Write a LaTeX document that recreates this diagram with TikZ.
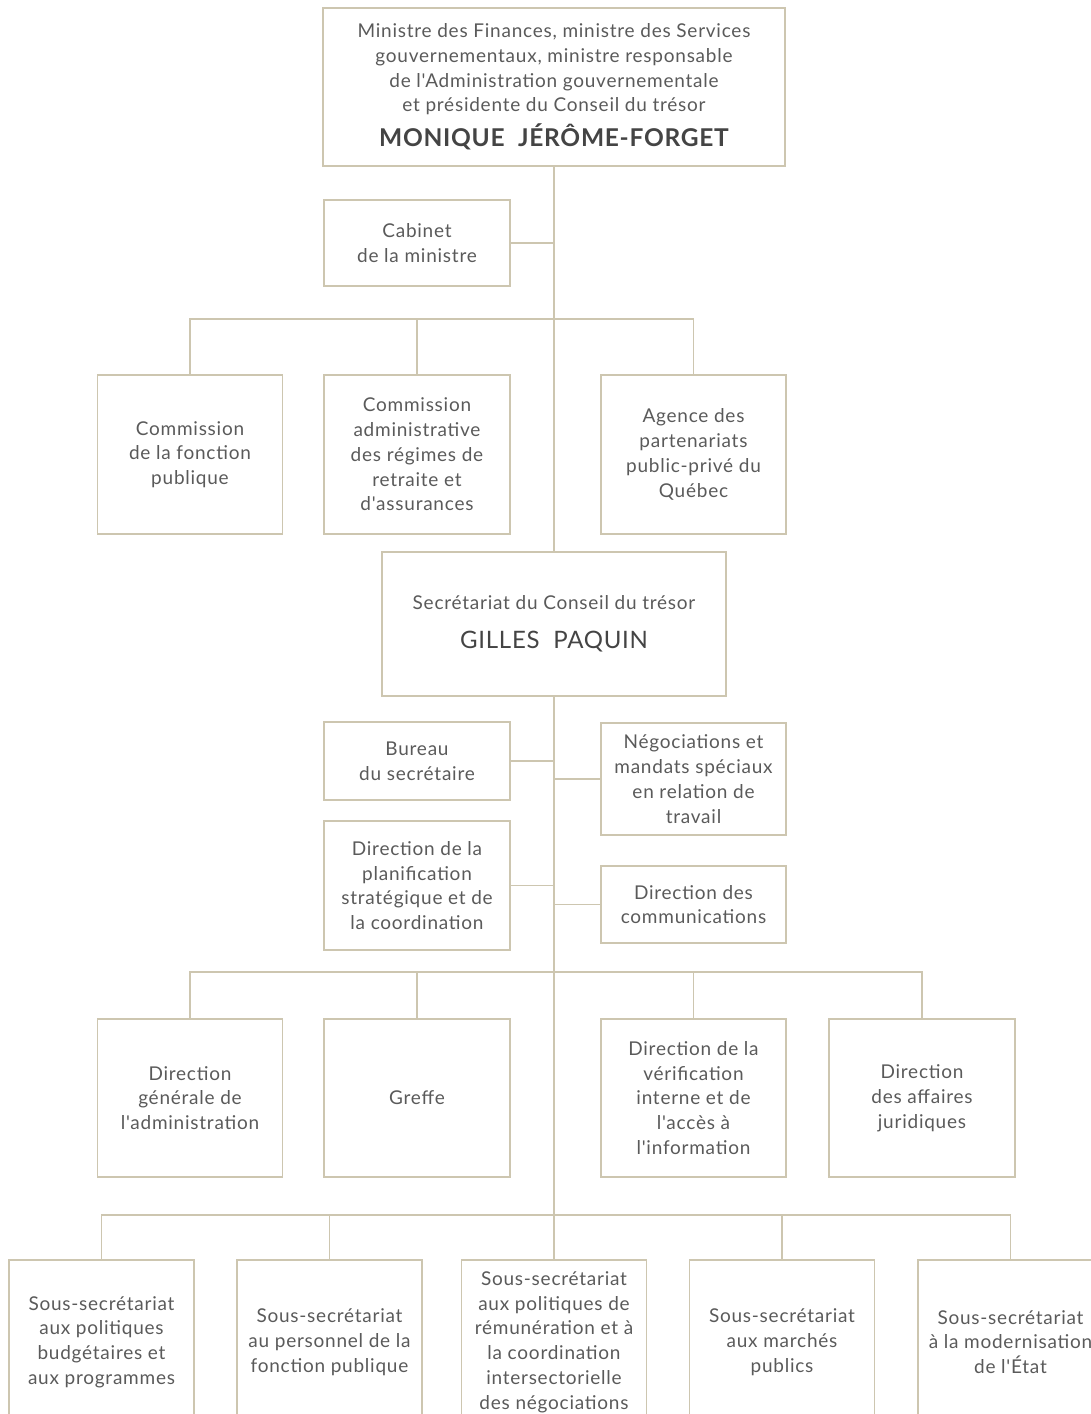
\documentclass[tikz,border=0pt]{standalone}
\usepackage{fontspec}
\setmainfont{Lato}[Ligatures=TeXOff, LetterSpace=4]
\newfontfamily\namefont{Lato}[Ligatures=TeXOff, LetterSpace=3]
\definecolor{linec}{HTML}{CDC6B0}
\definecolor{txtc}{HTML}{5A5A5A}
\definecolor{namec}{HTML}{444444}
\tikzset{
  orgbox/.style={draw=linec, line width=1.6pt, align=center, text=txtc,
    font=\fontsize{19}{24.8}\selectfont, inner sep=0pt},
  link/.style={draw=linec, line width=1.6pt},
}
\begin{document}
\begin{tikzpicture}[x=1pt,y=-1pt]
\useasboundingbox (0,0) rectangle (1091,1414);
% top
\node[orgbox, minimum width=462, minimum height=158] (top) at (554,87)
  {Ministre des Finances, ministre des Services\\gouvernementaux, ministre responsable\\de l'Administration gouvernementale\\et présidente du Conseil du trésor\\[8pt]{\namefont\fontsize{24.5}{28}\selectfont\bfseries\color{namec}MONIQUE\ \ JÉRÔME-FORGET}};
\node[orgbox, minimum width=186, minimum height=86] (cab) at (417,243) {Cabinet\\de la ministre};
% row 2
\node[orgbox, minimum width=185, minimum height=159] (c1) at (190,454.5) {Commission\\de la fonction\\publique};
\node[orgbox, minimum width=186, minimum height=159] (c2) at (417,454.5) {Commission\\administrative\\des régimes de\\retraite et\\d'assurances};
\node[orgbox, minimum width=185, minimum height=159] (c3) at (693.5,454.5) {Agence des\\partenariats\\public-privé du\\Québec};
% secretariat
\node[orgbox, minimum width=344, minimum height=144] (sec) at (554,624)
  {Secrétariat du Conseil du trésor\\[14pt]{\namefont\fontsize{24}{28}\selectfont\color{namec}GILLES\ \ PAQUIN}};
\node[orgbox, minimum width=186, minimum height=78] (bur) at (417,761) {Bureau\\du secrétaire};
\node[orgbox, minimum width=185, minimum height=112] (neg) at (693.5,779) {Négociations et\\mandats spéciaux\\en relation de\\travail};
\node[orgbox, minimum width=186, minimum height=129] (dpl) at (417,885.5) {Direction de la\\planification\\stratégique et de\\la coordination};
\node[orgbox, minimum width=185, minimum height=77] (dcom) at (693.5,904.5) {Direction des\\communications};
% row 4
\node[orgbox, minimum width=185, minimum height=158] (r41) at (190,1098) {Direction\\générale de\\l'administration};
\node[orgbox, minimum width=186, minimum height=158] (r42) at (417,1098) {Greffe};
\node[orgbox, minimum width=185, minimum height=158] (r43) at (693.5,1098) {Direction de la\\vérification\\interne et de\\l'accès à\\l'information};
\node[orgbox, minimum width=186, minimum height=158] (r44) at (922,1098) {Direction\\des affaires\\juridiques};
% row 5
\node[orgbox, minimum width=185, minimum height=164] (r51) at (101.5,1342) {Sous-secrétariat\\aux politiques\\budgétaires et\\aux programmes};
\node[orgbox, minimum width=185, minimum height=164] (r52) at (329.5,1342) {Sous-secrétariat\\au personnel de la\\fonction publique};
\node[orgbox, minimum width=185, minimum height=164] (r53) at (554,1342) {Sous-secrétariat\\aux politiques de\\rémunération et à\\la coordination\\intersectorielle\\des négociations};
\node[orgbox, minimum width=185, minimum height=164] (r54) at (782,1342) {Sous-secrétariat\\aux marchés\\publics};
\node[orgbox, minimum width=185, minimum height=164] (r55) at (1010.5,1342) {Sous-secrétariat\\à la modernisation\\de l'État};
% junctions
\coordinate (b1) at (554,319);
\coordinate (b2) at (554,972);
\coordinate (b3) at (554,1215);
% trunk
\draw[link] (top.south) -- (sec.north);
\draw[link] (sec.south) -- (r53.north);
% side connectors
\draw[link] (cab.east) -- (cab.east -| top.south);
\draw[link] (bur.east) -- (bur.east -| sec.south);
\draw[link] (neg.west) -- (neg.west -| sec.south);
\draw[link] (dpl.east) -- (dpl.east -| sec.south);
\draw[link] (dcom.west) -- (dcom.west -| sec.south);
% branches
\draw[link] (b1) -| (c1.north);
\draw[link] (b1) -| (c2.north);
\draw[link] (b1) -| (c3.north);
\draw[link] (b2) -| (r41.north);
\draw[link] (b2) -| (r42.north);
\draw[link] (b2) -| (r43.north);
\draw[link] (b2) -| (r44.north);
\draw[link] (b3) -| (r51.north);
\draw[link] (b3) -| (r52.north);
\draw[link] (b3) -| (r54.north);
\draw[link] (b3) -| (r55.north);
\end{tikzpicture}
\end{document}
